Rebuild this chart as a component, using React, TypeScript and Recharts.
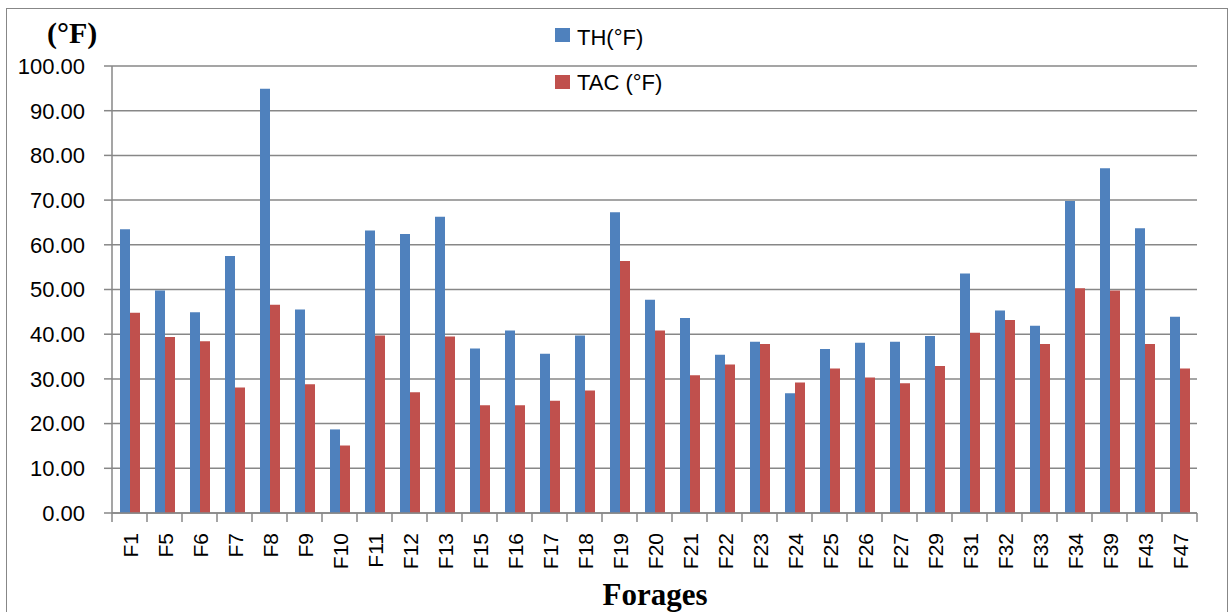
import React from 'react';
import { BarChart, Bar, XAxis, YAxis, CartesianGrid } from 'recharts';

const categories = ['F1','F5','F6','F7','F8','F9','F10','F11','F12','F13','F15','F16','F17','F18','F19','F20','F21','F22','F23','F24','F25','F26','F27','F29','F31','F32','F33','F34','F39','F43','F47'];
const thValues = [63.5,49.8,44.9,57.5,94.9,45.5,18.7,63.2,62.4,66.3,36.8,40.8,35.6,39.7,67.3,47.7,43.6,35.4,38.3,26.8,36.7,38.1,38.3,39.6,53.6,45.3,41.9,69.8,77.1,63.7,43.9];
const tacValues = [44.8,39.4,38.4,28.1,46.6,28.8,15.1,39.7,27.0,39.5,24.1,24.1,25.1,27.4,56.4,40.8,30.8,33.2,37.8,29.2,32.3,30.3,29.0,32.9,40.3,43.2,37.8,50.3,49.8,37.8,32.3];
const yTicks = [0,10,20,30,40,50,60,70,80,90,100];
const seriesKeys: ('th' | 'tac')[] = ['th', 'tac'];
const seriesNames = { th: 'TH(°F)', tac: 'TAC (°F)' };
const seriesColors = { th: '#4F81BD', tac: '#C0504D' };

const data = categories.map((c, i) => ({ name: c, th: thValues[i], tac: tacValues[i] }));

const W = 1229;
const H = 612;
const MARGIN = { top: 66, right: 32, bottom: 0, left: 0 };
const Y_AXIS_W = 112;
const X_AXIS_H = 99;
const BAND = (W - MARGIN.right - MARGIN.left - Y_AXIS_W) / categories.length;
const GRAY = '#878787';
const FONT = '"Liberation Sans", Arial, sans-serif';
const SERIF = '"Liberation Serif", "Times New Roman", serif';

function XTick(props: any) {
  const { x, y, payload } = props;
  const idx = categories.indexOf(payload.value);
  const half = BAND / 2;
  return (
    <g>
      <line x1={x - half} x2={x - half} y1={y} y2={y + 9} stroke={GRAY} strokeWidth={1.5} />
      {idx === categories.length - 1 && (
        <line x1={x + half} x2={x + half} y1={y} y2={y + 9} stroke={GRAY} strokeWidth={1.5} />
      )}
      <text
        transform={`translate(${x + 1},${y + 20}) rotate(-90)`}
        textAnchor="end"
        dominantBaseline="central"
        fontFamily={FONT}
        fontSize={21}
        fill="#000"
      >
        {payload.value}
      </text>
    </g>
  );
}

export default function App() {
  return (
    <div style={{ position: 'absolute', left: 0, top: 0, width: W, height: H, background: '#fff', overflow: 'hidden' }}>
      <div style={{ position: 'absolute', left: 6, top: 8, width: W - 9, height: H + 20, border: `1px solid ${GRAY}` }} />
      <div style={{ position: 'absolute', left: 0, top: 0 }}>
        <BarChart width={W} height={H} data={data} margin={MARGIN} barGap={0} barSize={10}>
          <CartesianGrid horizontal={true} vertical={false} stroke={GRAY} strokeWidth={1.5} />
          <XAxis
            dataKey="name"
            height={X_AXIS_H}
            interval={0}
            tickLine={false}
            tickSize={0}
            tickMargin={0}
            axisLine={{ stroke: GRAY, strokeWidth: 1.5 }}
            tick={<XTick />}
          />
          <YAxis
            width={Y_AXIS_W}
            domain={[0, 100]}
            ticks={yTicks}
            interval={0}
            tickFormatter={(v: number) => v.toFixed(2)}
            tickSize={8}
            tickMargin={19}
            tickLine={{ stroke: GRAY, strokeWidth: 1.5 }}
            axisLine={{ stroke: GRAY, strokeWidth: 1.5 }}
            tick={{ fontFamily: FONT, fontSize: 22, fill: '#000' }}
          />
          <Bar dataKey="th" name={seriesNames.th} fill={seriesColors.th} isAnimationActive={false} />
          <Bar dataKey="tac" name={seriesNames.tac} fill={seriesColors.tac} isAnimationActive={false} />
        </BarChart>
      </div>
      <svg width={W} height={H} style={{ position: 'absolute', left: 0, top: 0, pointerEvents: 'none' }}>
        <text x={47} y={43} fontFamily={SERIF} fontWeight="bold" fontSize={30} fill="#000">(°F)</text>
        <text x={655} y={605} textAnchor="middle" fontFamily={SERIF} fontWeight="bold" fontSize={31} fill="#000">Forages</text>
        {seriesKeys.map((k, i) => (
          <g key={k}>
            <rect x={555} y={28 + i * 47} width={15} height={14} fill={seriesColors[k]} />
            <text x={577} y={45 + i * 45} fontFamily={FONT} fontSize={22} fill="#000">
              {seriesNames[k]}
            </text>
          </g>
        ))}
      </svg>
    </div>
  );
}
